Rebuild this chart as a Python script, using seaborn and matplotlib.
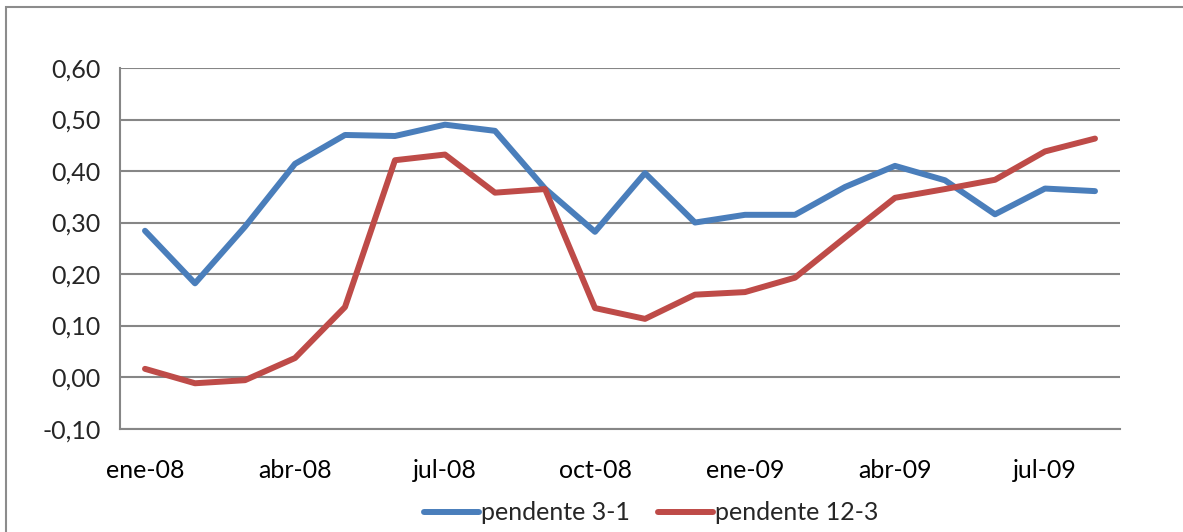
import pandas as pd
import seaborn as sns
import matplotlib.pyplot as plt
from matplotlib.patches import Rectangle
from matplotlib.lines import Line2D

meses = ['ene-08', 'feb-08', 'mar-08', 'abr-08', 'may-08', 'jun-08', 'jul-08',
         'ago-08', 'sep-08', 'oct-08', 'nov-08', 'dic-08', 'ene-09', 'feb-09',
         'mar-09', 'abr-09', 'may-09', 'jun-09', 'jul-09', 'ago-09']
pendente_3_1 = [0.284, 0.182, 0.292, 0.414, 0.470, 0.468, 0.490, 0.478, 0.366, 0.282,
                0.396, 0.300, 0.315, 0.315, 0.369, 0.410, 0.382, 0.316, 0.366, 0.361]
pendente_12_3 = [0.016, -0.012, -0.006, 0.037, 0.136, 0.421, 0.432, 0.358, 0.365, 0.134,
                 0.113, 0.160, 0.165, 0.193, 0.271, 0.348, 0.365, 0.383, 0.438, 0.463]
etiquetas_y = ['-0,10', '0,00', '0,10', '0,20', '0,30', '0,40', '0,50', '0,60']

sns.set_style('white')
plt.rcParams['font.family'] = ['Lato', 'DejaVu Sans']

df = pd.DataFrame({
    'idx': list(range(len(meses))) * 2,
    'valor': pendente_3_1 + pendente_12_3,
    'serie': ['pendente 3-1'] * len(meses) + ['pendente 12-3'] * len(meses),
})

fig = plt.figure(figsize=(11.83, 5.32), dpi=100)
ax = fig.add_axes([120 / 1183, 1 - 428.6 / 532, 1000 / 1183, (428.6 - 68) / 532])

# marco exterior del gráfico
fig.patches.append(Rectangle((6 / 1183, -0.1), 1.2, 1.1 - 7 / 532, transform=fig.transFigure,
                             fill=False, edgecolor='#8c8c8c', linewidth=1.5))

sns.lineplot(data=df, x='idx', y='valor', hue='serie',
             palette={'pendente 3-1': '#4a7ebb', 'pendente 12-3': '#be4b48'},
             linewidth=4.3, ax=ax, legend=False)

ax.set_xlim(-0.5, len(meses) - 0.5)
ax.set_ylim(-0.1, 0.6)
ax.set_yticks([-0.1 + 0.1 * i for i in range(8)])
ax.set_yticklabels(etiquetas_y)
ax.set_xticks(range(0, len(meses), 3))
ax.set_xticklabels(meses[::3])
ax.set_xticks([i - 0.5 for i in range(0, len(meses) + 1, 3)], minor=True)
ax.tick_params(axis='x', which='major', length=0, pad=22, labelsize=18, colors='black')
ax.tick_params(axis='x', which='minor', length=7, width=1.5, color='#868686', direction='out')
ax.tick_params(axis='y', length=8, width=1.5, color='#868686', labelsize=18, pad=6)
ax.set_xlabel('')
ax.set_ylabel('')
ax.yaxis.grid(True, color='#868686', linewidth=1.5)
ax.set_axisbelow(True)
for s in ['top', 'right']:
    ax.spines[s].set_visible(False)
for s in ['left', 'bottom']:
    ax.spines[s].set_color('#868686')
    ax.spines[s].set_linewidth(1.5)

handles = [Line2D([], [], color='#4a7ebb', linewidth=4.3),
           Line2D([], [], color='#be4b48', linewidth=4.3)]
fig.legend(handles, ['pendente 3-1', 'pendente 12-3'], loc='center',
           bbox_to_anchor=(651 / 1183, 19 / 532), ncol=2, frameon=False,
           fontsize=18, handlelength=2.2, handletextpad=0.1, columnspacing=1.1)

fig.savefig('out.png', dpi=100)
